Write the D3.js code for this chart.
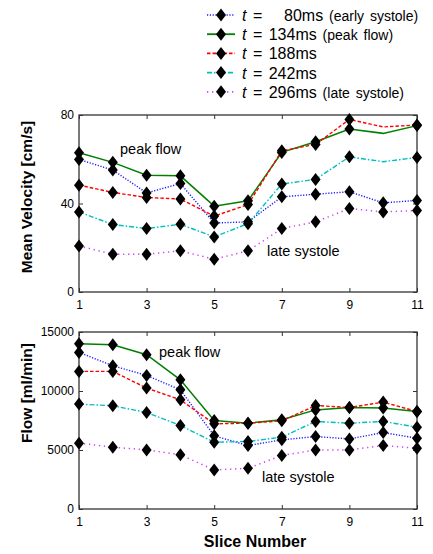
<!DOCTYPE html>
<html>

<head>
  <meta charset="utf-8">
  <title>Velocity and flow per slice</title>
  <style>
    body {
      margin: 0;
      background-color: #fff;
      font-family: Arial, 'Liberation Sans', sans-serif;
    }

    .tick text {
      font-size: 12px;
      fill: #000;
    }

    .title {
      font-size: 15.5px;
      font-weight: bold;
    }

    .note {
      font-size: 14.5px;
    }
  </style>
</head>

<body>
  <div id="chart"></div>
  <script src="https://d3js.org/d3.v7.min.js"></script>

  <script>
    // slice numbers along the vessel
    var slices = [1, 2, 3, 4, 5, 6, 7, 8, 9, 10, 11];

    // mean velocity [cm/s] per time point
    var vel80 = [59.9, 55.1, 44.8, 49.0, 31.2, 31.7, 43.0, 44.2, 45.3, 40.3, 41.4];
    var vel134 = [62.9, 58.6, 52.8, 52.5, 38.8, 41.2, 63.1, 67.9, 73.7, 71.7, 75.2];
    var vel188 = [48.3, 45.0, 42.7, 42.0, 34.3, 39.5, 63.8, 66.7, 78.0, 74.6, 75.5];
    var vel242 = [36.2, 30.5, 28.7, 30.6, 24.9, 30.9, 48.8, 50.9, 61.1, 58.9, 60.8];
    var vel296 = [20.8, 17.1, 17.1, 18.6, 14.8, 18.6, 28.7, 31.7, 37.7, 36.2, 36.8];

    // flow [ml/min] per time point
    var flow80 = [13270, 12140, 11320, 10100, 6200, 5380, 5860, 6140, 5940, 6480, 6000];
    var flow134 = [14010, 13920, 13080, 10950, 7500, 7270, 7560, 8400, 8600, 8550, 8260];
    var flow188 = [11660, 11660, 10250, 9250, 7220, 7270, 7470, 8770, 8600, 9060, 8260];
    var flow242 = [8890, 8750, 8180, 7080, 5660, 5720, 6090, 7420, 7270, 7420, 6930];
    var flow296 = [5580, 5240, 5010, 4590, 3310, 3450, 4530, 5010, 5010, 5380, 5150];

    // slices drawn without a diamond in the velocity plot
    var velNoMarker = {
      134: [10],
      188: [10],
      242: [10]
    };

    var legendTimes = ['80', '134', '188', '242', '296'];
    var legendNotes = ['(early systole)', '(peak flow)', '', '', '(late systole)'];

    var xTicks = [1, 3, 5, 7, 9, 11];
    var velTicks = [0, 40, 80];
    var flowTicks = [0, 5000, 10000, 15000];

    var series = [
      { t: 80, color: '#1a1aff', dash: '1.2,1.6', width: 1.4, vel: vel80, flow: flow80 },
      { t: 134, color: '#007f00', dash: null, width: 1.5, vel: vel134, flow: flow134 },
      { t: 188, color: '#ff0000', dash: '3.5,2', width: 1.4, vel: vel188, flow: flow188 },
      { t: 242, color: '#00bfbf', dash: '5,2,1.5,2', width: 1.4, vel: vel242, flow: flow242 },
      { t: 296, color: '#d040ff', dash: '1.3,3.7', width: 1.5, vel: vel296, flow: flow296 }
    ];

    var width = 433,
      height = 554;

    var svg = d3.select("#chart").append("svg")
      .attr("width", width)
      .attr("height", height);

    var x = d3.scaleLinear().domain([1, 11]).range([79, 417]);

    var diamond = "M0,-6.5 L5,0 L0,6.5 L-5,0 Z";

    function styleAxis(a) {
      a.select(".domain").remove();
      a.selectAll("line").attr("stroke", "#333");
      a.selectAll("text").style("font-family", "Arial, 'Liberation Sans', sans-serif");
    }

    function drawPanel(top, bottom, yMax, ticks, key, noMarker, ytitle, titleY) {
      var y = d3.scaleLinear().domain([0, yMax]).range([bottom, top]);
      var g = svg.append("g");

      // box and inward ticks on all four sides
      g.append("rect")
        .attr("x", x(1)).attr("y", top)
        .attr("width", x(11) - x(1)).attr("height", bottom - top)
        .attr("fill", "none").attr("stroke", "#333").attr("stroke-width", 1.3);

      g.append("g")
        .attr("transform", "translate(0," + bottom + ")")
        .call(d3.axisBottom(x).tickValues(xTicks).tickSize(-4).tickPadding(8).tickFormat(d3.format("d")))
        .call(styleAxis);
      g.append("g")
        .attr("transform", "translate(0," + top + ")")
        .call(d3.axisTop(x).tickValues(xTicks).tickSize(-4).tickFormat(""))
        .call(styleAxis);
      g.append("g")
        .attr("transform", "translate(" + x(1) + ",0)")
        .call(d3.axisLeft(y).tickValues(ticks).tickSize(-4).tickPadding(5).tickFormat(d3.format("d")))
        .call(styleAxis);
      g.append("g")
        .attr("transform", "translate(" + x(11) + ",0)")
        .call(d3.axisRight(y).tickValues(ticks).tickSize(-4).tickFormat(""))
        .call(styleAxis);

      var line = d3.line()
        .x(function(d, i) { return x(slices[i]); })
        .y(function(d) { return y(d); });

      series.forEach(function(s) {
        g.append("path")
          .attr("d", line(s[key]))
          .attr("fill", "none")
          .attr("stroke", s.color)
          .attr("stroke-width", s.width)
          .attr("stroke-dasharray", s.dash);
      });

      // diamonds on top of all lines
      series.forEach(function(s) {
        var skip = noMarker[s.t] || [];
        var pts = s[key]
          .map(function(v, i) { return { s: slices[i], v: v }; })
          .filter(function(p) { return skip.indexOf(p.s) < 0; });
        g.selectAll(null)
          .data(pts)
          .enter().append("path")
          .attr("d", diamond)
          .attr("transform", function(p) {
            return "translate(" + x(p.s) + "," + y(p.v) + ")";
          })
          .attr("fill", "#000");
      });

      svg.append("text")
        .attr("class", "title")
        .attr("transform", "translate(32," + titleY + ") rotate(-90)")
        .attr("text-anchor", "middle")
        .text(ytitle);

      return y;
    }

    drawPanel(115, 292, 80, velTicks, "vel", velNoMarker, "Mean Velocity [cm/s]", 197);
    drawPanel(332, 509, 15000, flowTicks, "flow", {}, "Flow [ml/min]", 393);

    svg.append("text").attr("class", "title")
      .attr("x", 255).attr("y", 547)
      .attr("text-anchor", "middle")
      .style("font-size", "16px")
      .text("Slice Number");

    // annotations
    svg.append("text").attr("class", "note").attr("x", 120).attr("y", 154).text("peak flow");
    svg.append("text").attr("class", "note").attr("x", 267).attr("y", 256).text("late systole");
    svg.append("text").attr("class", "note").attr("x", 159).attr("y", 357).text("peak flow");
    svg.append("text").attr("class", "note").attr("x", 262).attr("y", 482).text("late systole");

    // legend
    var legend = svg.append("g");
    series.forEach(function(s, i) {
      var ly = 15 + i * 19.2;
      legend.append("line")
        .attr("x1", 207).attr("x2", 235)
        .attr("y1", ly).attr("y2", ly)
        .attr("stroke", s.color)
        .attr("stroke-width", s.width + 0.3)
        .attr("stroke-dasharray", s.dash);
      legend.append("path")
        .attr("d", diamond)
        .attr("transform", "translate(221," + ly + ")")
        .attr("fill", "#000");
      var t = legend.append("text")
        .attr("x", 242).attr("y", ly + 6)
        .style("font-size", "16px")
        .style("word-spacing", "2px");
      t.append("tspan").style("font-style", "italic").text("t");
      t.append("tspan").attr("xml:space", "preserve")
        .text(" = " + (legendTimes[i].length < 3 ? "\u2007 " : "") + legendTimes[i] + "ms");
      if (legendNotes[i]) {
        t.append("tspan").style("font-size", "14px").text(" " + legendNotes[i]);
      }
    });
  </script>
</body>

</html>
